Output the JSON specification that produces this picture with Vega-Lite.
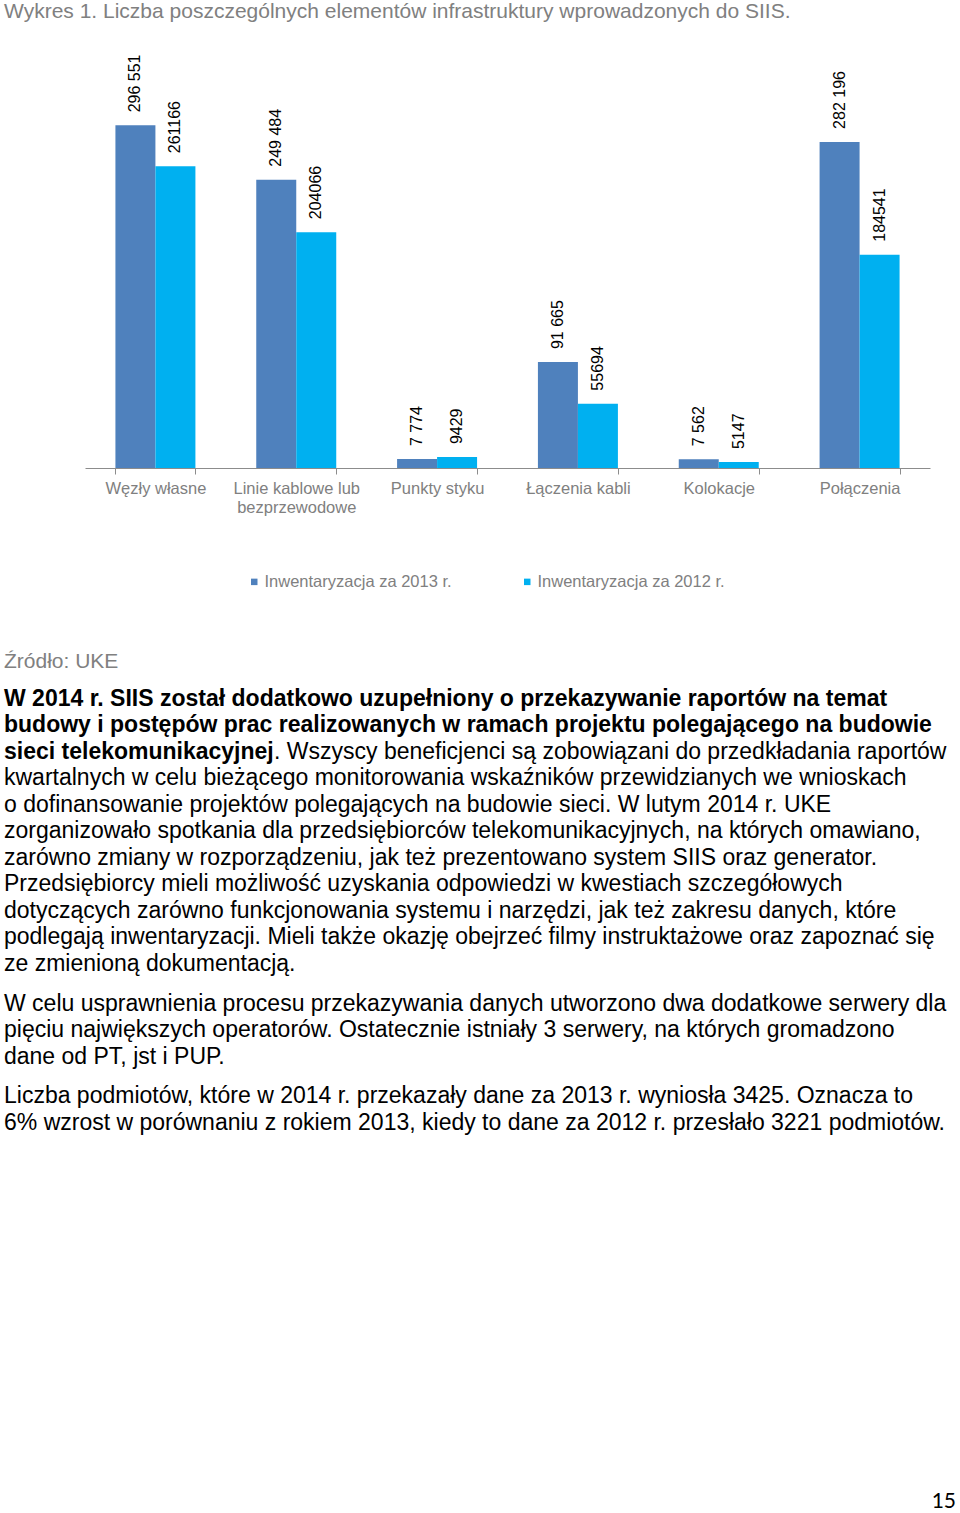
{
  "$schema": "https://vega.github.io/schema/vega-lite/v6.json",
  "background": "white",
  "padding": {"left": 4, "top": 1, "right": 0, "bottom": 0},
  "title": {
    "text": "Wykres 1. Liczba poszczególnych elementów infrastruktury wprowadzonych do SIIS.",
    "anchor": "start",
    "font": "Liberation Sans",
    "fontSize": 21,
    "fontWeight": "normal",
    "color": "#808080",
    "offset": 30
  },
  "config": {"view": {"stroke": null}, "font": "Liberation Sans"},
  "datasets": {
    "bars": [
      {"kategoria": "Węzły własne", "seria": "Inwentaryzacja za 2013 r.", "wartosc": 296551, "etykieta": "296 551"},
      {"kategoria": "Węzły własne", "seria": "Inwentaryzacja za 2012 r.", "wartosc": 261166, "etykieta": "261166"},
      {"kategoria": "Linie kablowe lub bezprzewodowe", "seria": "Inwentaryzacja za 2013 r.", "wartosc": 249484, "etykieta": "249 484"},
      {"kategoria": "Linie kablowe lub bezprzewodowe", "seria": "Inwentaryzacja za 2012 r.", "wartosc": 204066, "etykieta": "204066"},
      {"kategoria": "Punkty styku", "seria": "Inwentaryzacja za 2013 r.", "wartosc": 7774, "etykieta": "7 774"},
      {"kategoria": "Punkty styku", "seria": "Inwentaryzacja za 2012 r.", "wartosc": 9429, "etykieta": "9429"},
      {"kategoria": "Łączenia kabli", "seria": "Inwentaryzacja za 2013 r.", "wartosc": 91665, "etykieta": "91 665"},
      {"kategoria": "Łączenia kabli", "seria": "Inwentaryzacja za 2012 r.", "wartosc": 55694, "etykieta": "55694"},
      {"kategoria": "Kolokacje", "seria": "Inwentaryzacja za 2013 r.", "wartosc": 7562, "etykieta": "7 562"},
      {"kategoria": "Kolokacje", "seria": "Inwentaryzacja za 2012 r.", "wartosc": 5147, "etykieta": "5147"},
      {"kategoria": "Połączenia", "seria": "Inwentaryzacja za 2013 r.", "wartosc": 282196, "etykieta": "282 196"},
      {"kategoria": "Połączenia", "seria": "Inwentaryzacja za 2012 r.", "wartosc": 184541, "etykieta": "184541"}
    ],
    "zrodlo": [
      {"wiersz": 0, "tekst": "Źródło: UKE"}
    ],
    "pogrubione": [
      {"wiersz": 1.5, "tekst": "W 2014 r. SIIS został dodatkowo uzupełniony o przekazywanie raportów na temat"},
      {"wiersz": 2.5, "tekst": "budowy i postępów prac realizowanych w ramach projektu polegającego na budowie"},
      {"wiersz": 3.5, "tekst": "sieci telekomunikacyjnej"}
    ],
    "dalej": [
      {"wiersz": 3.5, "tekst": ". Wszyscy beneficjenci są zobowiązani do przedkładania raportów"}
    ],
    "tresc": [
      {"wiersz": 4.5, "tekst": "kwartalnych w celu bieżącego monitorowania wskaźników przewidzianych we wnioskach"},
      {"wiersz": 5.5, "tekst": "o dofinansowanie projektów polegających na budowie sieci. W lutym 2014 r. UKE"},
      {"wiersz": 6.5, "tekst": "zorganizowało spotkania dla przedsiębiorców telekomunikacyjnych, na których omawiano,"},
      {"wiersz": 7.5, "tekst": "zarówno zmiany w rozporządzeniu, jak też prezentowano system SIIS oraz generator."},
      {"wiersz": 8.5, "tekst": "Przedsiębiorcy mieli możliwość uzyskania odpowiedzi w kwestiach szczegółowych"},
      {"wiersz": 9.5, "tekst": "dotyczących zarówno funkcjonowania systemu i narzędzi, jak też zakresu danych, które"},
      {"wiersz": 10.5, "tekst": "podlegają inwentaryzacji. Mieli także okazję obejrzeć filmy instruktażowe oraz zapoznać się"},
      {"wiersz": 11.5, "tekst": "ze zmienioną dokumentacją."},
      {"wiersz": 13, "tekst": "W celu usprawnienia procesu przekazywania danych utworzono dwa dodatkowe serwery dla"},
      {"wiersz": 14, "tekst": "pięciu największych operatorów. Ostatecznie istniały 3 serwery, na których gromadzono"},
      {"wiersz": 15, "tekst": "dane od PT, jst i PUP."},
      {"wiersz": 16.5, "tekst": "Liczba podmiotów, które w 2014 r. przekazały dane za 2013 r. wyniosła 3425. Oznacza to"},
      {"wiersz": 17.5, "tekst": "6% wzrost w porównaniu z rokiem 2013, kiedy to dane za 2012 r. przesłało 3221 podmiotów."}
    ],
    "strona": [
      {"wiersz": 32, "tekst": "15"}
    ]
  },
  "spacing": 59,
  "resolve": {"legend": {"color": "independent"}},
  "vconcat": [
    {
      "width": 845,
      "height": 416,
      "data": {"name": "bars"},
      "encoding": {
        "x": {
          "field": "kategoria",
          "type": "nominal",
          "sort": null,
          "scale": {"paddingInner": 0.432, "paddingOuter": 0.216},
          "axis": {
            "title": null,
            "labelAngle": 0,
            "tickBand": "extent",
            "tickSize": 6,
            "labelPadding": 6,
            "domainColor": "#8c8c8c",
            "tickColor": "#8c8c8c",
            "labelColor": "#808080",
            "labelFont": "Liberation Sans",
            "labelFontSize": 16.5,
            "labelLineHeight": 19.5,
            "labelLimit": 300,
            "labelOverlap": false,
            "labelBound": false,
            "labelExpr": "datum.label == 'Linie kablowe lub bezprzewodowe' ? ['Linie kablowe lub', 'bezprzewodowe'] : datum.label"
          }
        },
        "xOffset": {
          "field": "seria",
          "type": "nominal",
          "sort": ["Inwentaryzacja za 2013 r.", "Inwentaryzacja za 2012 r."]
        },
        "y": {
          "field": "wartosc",
          "type": "quantitative",
          "scale": {"domain": [0, 360000], "nice": false},
          "axis": null
        }
      },
      "layer": [
        {
          "mark": {"type": "bar"},
          "encoding": {
            "color": {
              "field": "seria",
              "type": "nominal",
              "sort": ["Inwentaryzacja za 2013 r.", "Inwentaryzacja za 2012 r."],
              "scale": {
                "domain": ["Inwentaryzacja za 2013 r.", "Inwentaryzacja za 2012 r."],
                "range": ["#4F81BD", "#00B0F0"]
              },
              "legend": {
                "title": null,
                "orient": "none",
                "legendX": 161,
                "legendY": 521.5,
                "direction": "horizontal",
                "symbolType": "square",
                "symbolSize": 42,
                "symbolStrokeWidth": 0,
                "labelFont": "Liberation Sans",
                "labelFontSize": 16.5,
                "labelColor": "#808080",
                "labelOffset": 2,
                "labelLimit": 300,
                "columnPadding": 67,
                "padding": 0
              }
            }
          }
        },
        {
          "mark": {"type": "text", "angle": 270, "align": "left", "baseline": "middle", "dx": 13, "fontSize": 16, "font": "Liberation Sans", "color": "#000000"},
          "encoding": {"text": {"field": "etykieta"}}
        }
      ]
    },
    {
      "width": 845,
      "height": 848,
      "encoding": {
        "x": {"datum": 0, "type": "quantitative", "scale": {"domain": [0, 1], "range": [-81, 871], "nice": false}, "axis": null},
        "y": {"field": "wiersz", "type": "quantitative", "scale": {"domain": [0, 32], "nice": false, "reverse": true}, "axis": null}
      },
      "layer": [
        {
          "data": {"name": "zrodlo"},
          "mark": {"type": "text", "align": "left", "baseline": "middle", "dy": 2.5, "font": "Liberation Sans", "fontSize": 21, "color": "#808080"},
          "encoding": {"text": {"field": "tekst"}}
        },
        {
          "data": {"name": "pogrubione"},
          "mark": {"type": "text", "align": "left", "baseline": "middle", "font": "Liberation Sans", "fontSize": 23, "fontWeight": "bold", "color": "#000000"},
          "encoding": {"text": {"field": "tekst"}}
        },
        {
          "data": {"name": "dalej"},
          "mark": {"type": "text", "align": "left", "baseline": "middle", "dx": 270, "font": "Liberation Sans", "fontSize": 23, "color": "#000000"},
          "encoding": {"text": {"field": "tekst"}}
        },
        {
          "data": {"name": "tresc"},
          "mark": {"type": "text", "align": "left", "baseline": "middle", "font": "Liberation Sans", "fontSize": 23, "color": "#000000"},
          "encoding": {"text": {"field": "tekst"}}
        },
        {
          "data": {"name": "strona"},
          "mark": {"type": "text", "align": "right", "baseline": "middle", "dy": -5, "font": "Lato", "fontSize": 21, "color": "#000000"},
          "encoding": {
            "x": {"datum": 1, "type": "quantitative"},
            "text": {"field": "tekst"}
          }
        }
      ]
    }
  ]
}
